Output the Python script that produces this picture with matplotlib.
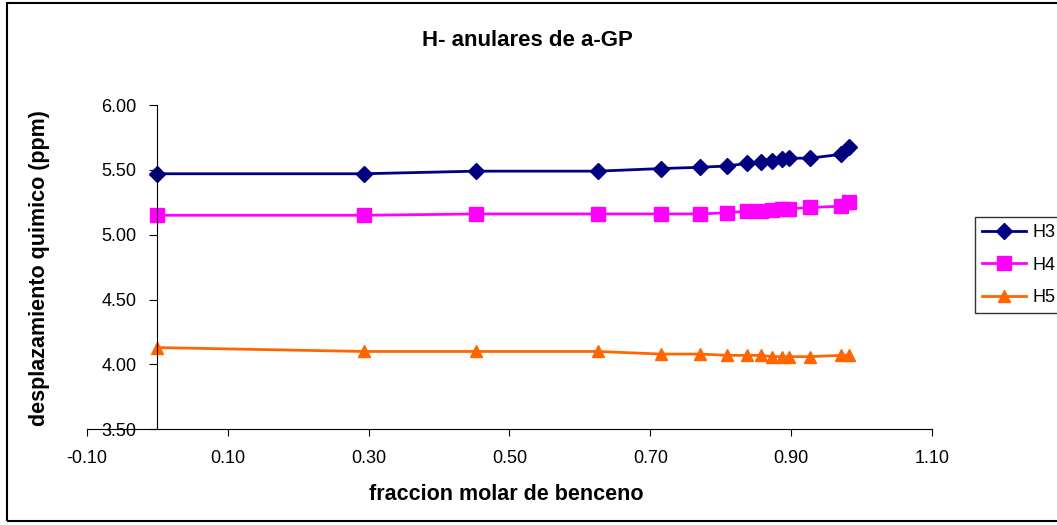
import matplotlib.pyplot as plt
from matplotlib.patches import Rectangle

plt.rcParams['font.family'] = ['Liberation Sans', 'DejaVu Sans']

# benzene mole fraction and chemical shifts (ppm)
x_frac = [0.0, 0.293, 0.453, 0.625, 0.715, 0.771, 0.809, 0.837, 0.857, 0.872, 0.886, 0.896, 0.926, 0.971, 0.982]
h3 = [5.47, 5.47, 5.49, 5.49, 5.51, 5.52, 5.53, 5.55, 5.56, 5.57, 5.58, 5.59, 5.59, 5.62, 5.68]
h4 = [5.15, 5.15, 5.16, 5.16, 5.16, 5.16, 5.17, 5.18, 5.18, 5.19, 5.20, 5.20, 5.21, 5.22, 5.25]
h5 = [4.13, 4.10, 4.10, 4.10, 4.08, 4.08, 4.07, 4.07, 4.07, 4.06, 4.06, 4.06, 4.06, 4.07, 4.07]

x_ticks = [-0.10, 0.10, 0.30, 0.50, 0.70, 0.90, 1.10]
y_ticks = [3.50, 4.00, 4.50, 5.00, 5.50, 6.00]

W, H = 1057, 525
fig = plt.figure(figsize=(W / 100, H / 100), dpi=100)

# plot area in pixels
left, right, top, bottom = 86.7, 932.3, 105.0, 429.3
ax = fig.add_axes([left / W, 1 - bottom / H, (right - left) / W, (bottom - top) / H])

ax.plot(x_frac, h3, color='#000080', lw=2, marker='D', ms=8.5, label='H3')
ax.plot(x_frac, h4, color='#FF00FF', lw=2, marker='s', ms=9.5, label='H4')
ax.plot(x_frac, h5, color='#FF6600', lw=2, marker='^', ms=8, label='H5')

ax.set_xlim(-0.1, 1.1)
ax.set_ylim(3.5, 6.0)
ax.set_xticks(x_ticks)
ax.set_xticklabels(['%.2f' % v for v in x_ticks])
ax.set_yticks(y_ticks)
ax.set_yticklabels(['%.2f' % v for v in y_ticks])

# axes like excel: y axis crosses at x = 0
ax.spines['left'].set_position(('data', 0))
ax.spines['top'].set_visible(False)
ax.spines['right'].set_visible(False)
ax.tick_params(axis='x', length=5, pad=10, labelsize=13)
ax.tick_params(axis='y', length=6, pad=9, labelsize=13)

fig.text(0.499, 1 - 41 / H, 'H- anulares de a-GP', ha='center', va='center',
         fontsize=16, fontweight='bold')
fig.text(506 / W, 1 - 495 / H, 'fraccion molar de benceno', ha='center', va='center',
         fontsize=15.5, fontweight='bold')
fig.text(40 / W, 1 - 268 / H, 'desplazamiento quimico (ppm)', ha='center', va='center',
         rotation=90, fontsize=15.5, fontweight='bold')

leg = fig.legend(loc='upper left', bbox_to_anchor=(975 / W, 1 - 217 / H),
                 fontsize=13, frameon=True, fancybox=False, handlelength=2.4,
                 handletextpad=0.4, labelspacing=0.85, borderaxespad=0)
leg.get_frame().set_edgecolor('black')
leg.get_frame().set_linewidth(1)

# outer chart border
fig.patches.append(Rectangle((7 / W, 4 / H), 1.1, 1 - 7 / H, transform=fig.transFigure,
                             fill=False, edgecolor='black', lw=1.5))

fig.savefig('out.png', dpi=100)
